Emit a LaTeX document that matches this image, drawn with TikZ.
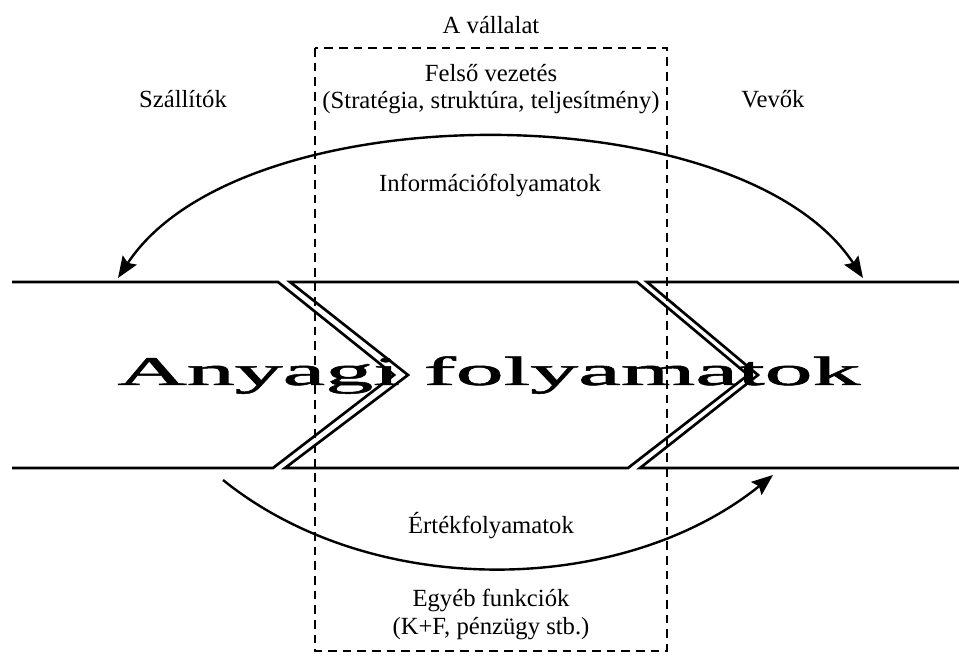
\documentclass[tikz,border=0pt]{standalone}
\usepackage{fontspec}
\setmainfont{Liberation Serif}
\newfontfamily\heavyserif[FakeBold=1.2]{Liberation Serif}
\usetikzlibrary{arrows.meta}
\begin{document}
\begin{tikzpicture}[x=0.75pt,y=-0.75pt,
  lbl/.style={font=\fontsize{18.5}{22}\selectfont, anchor=base, inner sep=0pt},
  big/.style={font=\heavyserif\fontsize{30.6}{36}\selectfont, anchor=base, inner sep=0pt},
  flow/.style={line width=2pt, line join=miter},
  arcline/.style={line width=1.8pt},
  headtip/.style={{Stealth[length=16pt,width=12.5pt,inset=2.5pt]}-{Stealth[length=16pt,width=12.5pt,inset=2.5pt]}},
  tipped/.style={-{Stealth[length=16pt,width=12.5pt,inset=2.5pt]}},
  firmbox/.style={line width=2.2pt, dash pattern=on 6.5pt off 4.5pt}]
\useasboundingbox[fill=white] (0,0) rectangle (959,655);

% big text (drawn first, lines go over it)
\node[big] (mat) at (489,385) {\scalebox{2.35}[1]{Anyagi folyamatok}};

% chevrons
\draw[flow] (12,282) -- (278,282) -- (394,375) -- (273,468) -- (12,468);
\draw[flow] (290,282) -- (637,282) -- (748,375) -- (628,468) -- (285,468) -- (408,375) -- cycle;
\draw[flow] (959,282) -- (647,282) -- (758,375) -- (640,468) -- (959,468);

% company box
\draw[firmbox] (315,48) rectangle (667,651);

% labels
\node[lbl] (ceg) at (491,34) {A vállalat};
\node[lbl] (fv) at (491,82) {Felső vezetés};
\node[lbl] (fv2) at (491,109) {(Stratégia, struktúra, teljesítmény)};
\node[lbl] (szall) at (183,108) {Szállítók};
\node[lbl] (vevo) at (773,108) {Vevők};
\node[lbl] (info) at (490,192) {Információfolyamatok};
\node[lbl] (ertek) at (491,533) {Értékfolyamatok};
\node[lbl] (egyeb) at (491,606) {Egyéb funkciók};
\node[lbl] (kf) at (491,634) {(K+F, pénzügy stb.)};

% information flow arc
\coordinate (iL) at (118,278);
\coordinate (iR) at (863,278);
\draw[arcline, headtip] (iL) .. controls (240,92) and (741,92) .. (iR);

% value flow arc
\coordinate (vL) at (223,480);
\coordinate (vR) at (773,475);
\draw[arcline, tipped] (vL) .. controls (373,601) and (623,596) .. (vR);
\end{tikzpicture}
\end{document}
